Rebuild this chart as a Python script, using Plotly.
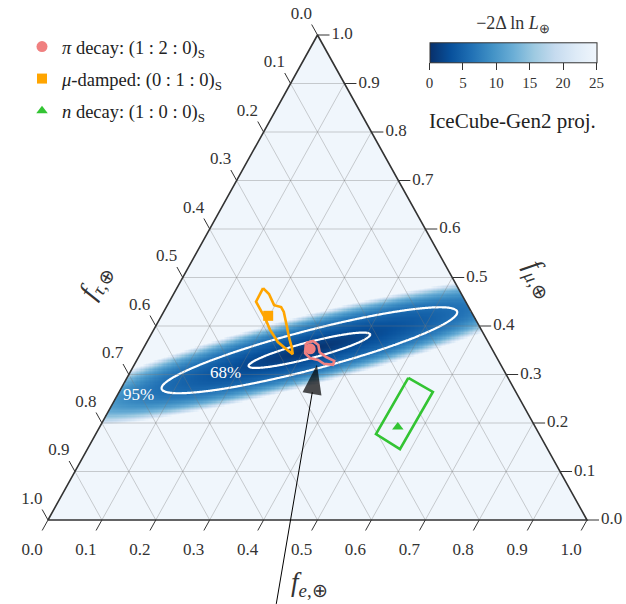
import numpy as np
import plotly.graph_objects as go

# ------------------------------------------------------------------
# Flavour composition at Earth, given as (f_e, f_mu); f_tau = 1 - f_e - f_mu
# ------------------------------------------------------------------
TICK_VALUES = [0.0, 0.1, 0.2, 0.3, 0.4, 0.5, 0.6, 0.7, 0.8, 0.9, 1.0]
TICK_TEXT = ["0.0", "0.1", "0.2", "0.3", "0.4", "0.5", "0.6", "0.7", "0.8", "0.9", "1.0"]

# benchmark source scenarios (best-fit flavour composition at Earth)
SOURCE_NAMES = [
    "<i>π</i> decay: (1 : 2 : 0)<sub>S</sub>",
    "<i>μ</i>-damped: (0 : 1 : 0)<sub>S</sub>",
    "<i>n</i> decay: (1 : 0 : 0)<sub>S</sub>",
]
SOURCE_FE = [0.310, 0.198, 0.553]
SOURCE_FMU = [0.353, 0.421, 0.192]

# allowed regions of each scenario from mixing-parameter uncertainties
PI_REGION_FE = [0.296, 0.307, 0.321, 0.331, 0.348, 0.367, 0.369, 0.351, 0.336, 0.319, 0.305, 0.296]
PI_REGION_FMU = [0.365, 0.369, 0.361, 0.346, 0.336, 0.328, 0.320, 0.322, 0.330, 0.334, 0.344, 0.365]
MU_REGION_FE = [0.160, 0.161, 0.176, 0.194, 0.216, 0.243, 0.268, 0.283, 0.275, 0.260, 0.243,
                0.223, 0.213, 0.198, 0.177, 0.160]
MU_REGION_FMU = [0.478, 0.450, 0.435, 0.417, 0.392, 0.367, 0.351, 0.342, 0.355, 0.375, 0.400,
                 0.429, 0.439, 0.443, 0.466, 0.478]
N_REGION_FE = [0.522, 0.582, 0.580, 0.520, 0.522]
N_REGION_FMU = [0.293, 0.264, 0.146, 0.177, 0.293]

# IceCube-Gen2 projected sensitivity around the pi-decay composition
GEN2_BESTFIT = (0.310, 0.350)            # (f_e, f_mu)
GEN2_HALF_MAJOR_68 = (0.0964, 0.0328)    # (d f_e, d f_mu) of the 68% region tip
GEN2_HALF_MINOR_68 = (0.0120, -0.0160)   # (d f_e, d f_mu) of the 68% region half width
GEN2_EXTENT_RATIO_95 = 2.43              # size of the 95% region relative to the 68% one
CONF_LEVELS = [0.68, 0.95]
CONF_TEXT = ["68%", "95%"]

# arrow pointing at the pi-decay expectation, (f_e, f_mu)
ARROW_FROM = (0.510, -0.173)
ARROW_TO = (0.339, 0.320)

# colour bar
CBAR_TICKS = [0, 5, 10, 15, 20, 25]
CBAR_MAX = 25

# ------------------------------------------------------------------
# Geometry of the drawing
# ------------------------------------------------------------------
W, H = 626, 604
LEFT, BOTTOM = 48.0, 520.0      # pixel of the f_tau = 1 corner
TRI_W, TRI_H = 539.0, 485.0     # pixel width / height of the triangle
FONT = "Liberation Serif"
INK = "#333333"
TICK_FONT = 17

X_RANGE = [-LEFT / TRI_W, (W - LEFT) / TRI_W]
Y_RANGE = [-(H - BOTTOM) / TRI_H, BOTTOM / TRI_H]


def to_xy(fe, fmu):
    fe = np.asarray(fe, dtype=float)
    fmu = np.asarray(fmu, dtype=float)
    return fe + 0.5 * fmu, fmu


def px(dx, dy):
    """pixel offset (right, up) -> plane offset"""
    return dx / TRI_W, dy / TRI_H


def unit_px(vx, vy):
    n = np.hypot(vx, vy)
    return vx / n, vy / n


def segments(pairs):
    xs, ys = [], []
    for (x0, y0), (x1, y1) in pairs:
        xs += [x0, x1, None]
        ys += [y0, y1, None]
    return xs, ys


fig = go.Figure()

# ------------------------------------------------------------------
# -2 Delta ln L surface
# ------------------------------------------------------------------
levels = [-2.0 * np.log(1.0 - cl) for cl in CONF_LEVELS]   # 2 d.o.f.
# radial profile chi2(r) = c1 r + c6 r^6 through the two contour extents
R95 = GEN2_EXTENT_RATIO_95
c1, c6 = np.linalg.solve([[1.0, 1.0], [R95, R95 ** 6]], levels)

gx = np.linspace(0.0, 1.0, 420)
gy = np.linspace(0.0, 1.0, 380)
GX, GY = np.meshgrid(gx, gy)
FMU = GY
FE = GX - 0.5 * GY
FT = 1.0 - FE - FMU
basis = np.array([[GEN2_HALF_MAJOR_68[0], GEN2_HALF_MINOR_68[0]],
                  [GEN2_HALF_MAJOR_68[1], GEN2_HALF_MINOR_68[1]]])
inv = np.linalg.inv(basis)
dfe = FE - GEN2_BESTFIT[0]
dfmu = FMU - GEN2_BESTFIT[1]
u = inv[0, 0] * dfe + inv[0, 1] * dfmu
v = inv[1, 0] * dfe + inv[1, 1] * dfmu
r = np.hypot(u, v)
chi2_full = np.minimum(c1 * r + c6 * r ** 6, 200.0)
eps = 1e-9
inside = (FE >= -eps) & (FMU >= -eps) & (FT >= -eps)
chi2 = np.where(inside, np.round(chi2_full, 2), np.nan)

blues_r = [
    [0.0, "#08306b"], [0.125, "#08519c"], [0.25, "#2171b5"], [0.375, "#4292c6"],
    [0.5, "#6baed6"], [0.625, "#9ecae1"], [0.75, "#c6dbef"], [0.875, "#deebf7"],
    [1.0, "#f0f6fc"],
]

fig.add_trace(go.Heatmap(
    x=gx, y=gy, z=chi2, zmin=0, zmax=CBAR_MAX, colorscale=blues_r,
    zsmooth=False, hoverinfo="skip", showlegend=False,
    colorbar=dict(
        orientation="h", x=513 / W, xanchor="center", y=1 - 20 / H, yanchor="top",
        len=167, lenmode="pixels", thickness=20, thicknessmode="pixels",
        outlinewidth=1, outlinecolor=INK, ticks="outside", ticklen=7, tickwidth=1.3,
        tickcolor=INK, tickvals=CBAR_TICKS,
        tickfont=dict(family=FONT, size=15, color=INK),
        title=dict(text="−2Δ ln <i>L</i><sub>⊕</sub>", side="top",
                   font=dict(family=FONT, size=18, color=INK)),
        xpad=0, ypad=0,
    ),
))

# ------------------------------------------------------------------
# ternary grid and frame
# ------------------------------------------------------------------
grid_pairs = []
for t in TICK_VALUES[1:-1]:
    grid_pairs.append((to_xy(t, 0.0), to_xy(t, 1.0 - t)))          # const f_e
    grid_pairs.append((to_xy(0.0, t), to_xy(1.0 - t, t)))          # const f_mu
    grid_pairs.append((to_xy(1.0 - t, 0.0), to_xy(0.0, 1.0 - t)))  # const f_tau
gxs, gys = segments(grid_pairs)
fig.add_trace(go.Scatter(x=gxs, y=gys, mode="lines", hoverinfo="skip", showlegend=False,
                         line=dict(color="rgba(120,120,120,0.45)", width=0.8)))

# contours of the projected sensitivity
fig.add_trace(go.Contour(
    x=gx, y=gy, z=chi2_full, showscale=False, hoverinfo="skip", showlegend=False,
    contours=dict(start=levels[0], end=levels[1] + 1e-6, size=levels[1] - levels[0],
                  coloring="none"),
    line=dict(color="white", width=2.2, smoothing=1.0),
))

fx, fy = to_xy([0.0, 1.0, 0.0, 0.0], [0.0, 0.0, 1.0, 0.0])
fig.add_trace(go.Scatter(x=fx, y=fy, mode="lines", hoverinfo="skip", showlegend=False,
                         line=dict(color=INK, width=1.6)))

# ------------------------------------------------------------------
# ticks and tick labels
# ------------------------------------------------------------------
TICK_LEN = 12
down_left = unit_px(-0.5 * TRI_W, -TRI_H)   # along the left edge, downwards
up_left = unit_px(-0.5 * TRI_W, TRI_H)      # along the right edge, upwards

tick_pairs = []
lab_x, lab_y, lab_t = [], [], []
rlab_x, rlab_y, rlab_t = [], [], []
for t, txt in zip(TICK_VALUES, TICK_TEXT):
    # f_e on the bottom edge
    bx, by = to_xy(t, 0.0)
    dx, dy = px(TICK_LEN * down_left[0], TICK_LEN * down_left[1])
    tick_pairs.append(((bx, by), (bx + dx, by + dy)))
    ox, oy = px(35 * down_left[0] + 1, 35 * down_left[1])
    lab_x.append(bx + ox); lab_y.append(by + oy); lab_t.append(txt)
    # f_mu on the right edge
    bx, by = to_xy(1.0 - t, t)
    dx, dy = px(TICK_LEN, 0)
    tick_pairs.append(((bx, by), (bx + dx, by + dy)))
    ox, oy = px(14, 0)
    rlab_x.append(bx + ox); rlab_y.append(by + oy); rlab_t.append(txt)
    # f_tau on the left edge
    bx, by = to_xy(0.0, 1.0 - t)
    dx, dy = px(TICK_LEN * up_left[0], TICK_LEN * up_left[1])
    tick_pairs.append(((bx, by), (bx + dx, by + dy)))
    ox, oy = px(27 * up_left[0] - 3, 27 * up_left[1] - 3)
    lab_x.append(bx + ox); lab_y.append(by + oy); lab_t.append(txt)

txs, tys = segments(tick_pairs)
fig.add_trace(go.Scatter(x=txs, y=tys, mode="lines", hoverinfo="skip", showlegend=False,
                         cliponaxis=False, line=dict(color=INK, width=1)))
fig.add_trace(go.Scatter(x=lab_x, y=lab_y, mode="text", text=lab_t, textposition="middle center",
                         hoverinfo="skip", showlegend=False, cliponaxis=False,
                         textfont=dict(family=FONT, size=TICK_FONT, color=INK)))
fig.add_trace(go.Scatter(x=rlab_x, y=rlab_y, mode="text", text=rlab_t, textposition="middle right",
                         hoverinfo="skip", showlegend=False, cliponaxis=False,
                         textfont=dict(family=FONT, size=TICK_FONT, color=INK)))

# ------------------------------------------------------------------
# source scenarios
# ------------------------------------------------------------------
COLORS = ["#f08080", "#ffa500", "#33c433"]
SYMBOLS = ["circle", "square", "triangle-up"]
SIZES = [11, 10, 10]
regions = [(PI_REGION_FE, PI_REGION_FMU), (MU_REGION_FE, MU_REGION_FMU),
           (N_REGION_FE, N_REGION_FMU)]
for (rfe, rfmu), col in zip(regions, COLORS):
    rx, ry = to_xy(rfe, rfmu)
    fig.add_trace(go.Scatter(x=rx, y=ry, mode="lines", hoverinfo="skip", showlegend=False,
                             line=dict(color=col, width=2.6)))

for i, name in enumerate(SOURCE_NAMES):
    sx, sy = to_xy([SOURCE_FE[i]], [SOURCE_FMU[i]])
    fig.add_trace(go.Scatter(
        x=sx, y=sy, mode="markers", name=name, legendgroup=f"g{i}",
        marker=dict(symbol=SYMBOLS[i], color=COLORS[i], size=SIZES[i], line=dict(width=0)),
        hoverinfo="skip",
    ))

# arrow
ax, ay = to_xy([ARROW_FROM[0], ARROW_TO[0]], [ARROW_FROM[1], ARROW_TO[1]])
fig.add_trace(go.Scatter(
    x=ax, y=ay, mode="lines+markers", hoverinfo="skip", showlegend=False, cliponaxis=False,
    line=dict(color="black", width=1),
    marker=dict(symbol="arrow", size=[0, 31], angleref="previous", color="black",
                line=dict(width=0)),
))

# ------------------------------------------------------------------
# annotations
# ------------------------------------------------------------------
annotations = []
cx, cy = to_xy(GEN2_BESTFIT[0], GEN2_BESTFIT[1])
mx, my = to_xy(GEN2_HALF_MAJOR_68[0], GEN2_HALF_MAJOR_68[1])
major_px = np.hypot(mx * TRI_W, my * TRI_H)
ux, uy = unit_px(mx * TRI_W, my * TRI_H)
for ext, txt in zip([1.0, R95], CONF_TEXT):
    dist = ext * major_px + 24
    ox, oy = px(-dist * ux, -dist * uy)
    annotations.append(dict(x=cx + ox, y=cy + oy, xref="x", yref="y", text=txt,
                            showarrow=False, font=dict(family=FONT, size=17, color="white")))

edge_angle = np.degrees(np.arctan2(TRI_H, 0.5 * TRI_W))
bx, by = to_xy(0.5, 0.0)
ox, oy = px(-8, -64)
annotations.append(dict(x=bx + ox, y=by + oy, xref="x", yref="y", showarrow=False,
                        text="<i>f</i><sub><i>e</i>,⊕</sub>",
                        font=dict(family=FONT, size=27, color=INK)))
bx, by = to_xy(0.5, 0.5)
ox, oy = px(88, -2)
annotations.append(dict(x=bx + ox, y=by + oy, xref="x", yref="y", showarrow=False,
                        textangle=edge_angle, text="<i>f</i><sub><i>μ</i>,⊕</sub>",
                        font=dict(family=FONT, size=27, color=INK)))
bx, by = to_xy(0.0, 0.5)
ox, oy = px(-87, -4)
annotations.append(dict(x=bx + ox, y=by + oy, xref="x", yref="y", showarrow=False,
                        textangle=-edge_angle, text="<i>f</i><sub><i>τ</i>,⊕</sub>",
                        font=dict(family=FONT, size=27, color=INK)))
annotations.append(dict(x=512 / W, y=1 - 121 / H, xref="paper", yref="paper", showarrow=False,
                        xanchor="center", yanchor="middle",
                        text="IceCube-Gen2 proj.", font=dict(family=FONT, size=21, color="#222")))

fig.update_layout(
    width=W, height=H, margin=dict(l=0, r=0, t=0, b=0),
    paper_bgcolor="white", plot_bgcolor="white",
    xaxis=dict(range=X_RANGE, visible=False, fixedrange=True),
    yaxis=dict(range=Y_RANGE, visible=False, fixedrange=True),
    showlegend=True,
    legend=dict(x=22 / W, y=1 - 28 / H, xanchor="left", yanchor="top",
                bgcolor="rgba(0,0,0,0)", traceorder="grouped", tracegroupgap=5,
                font=dict(family=FONT, size=18.5, color="#222"), itemwidth=30),
    annotations=annotations,
)

fig.write_html("out.html")
